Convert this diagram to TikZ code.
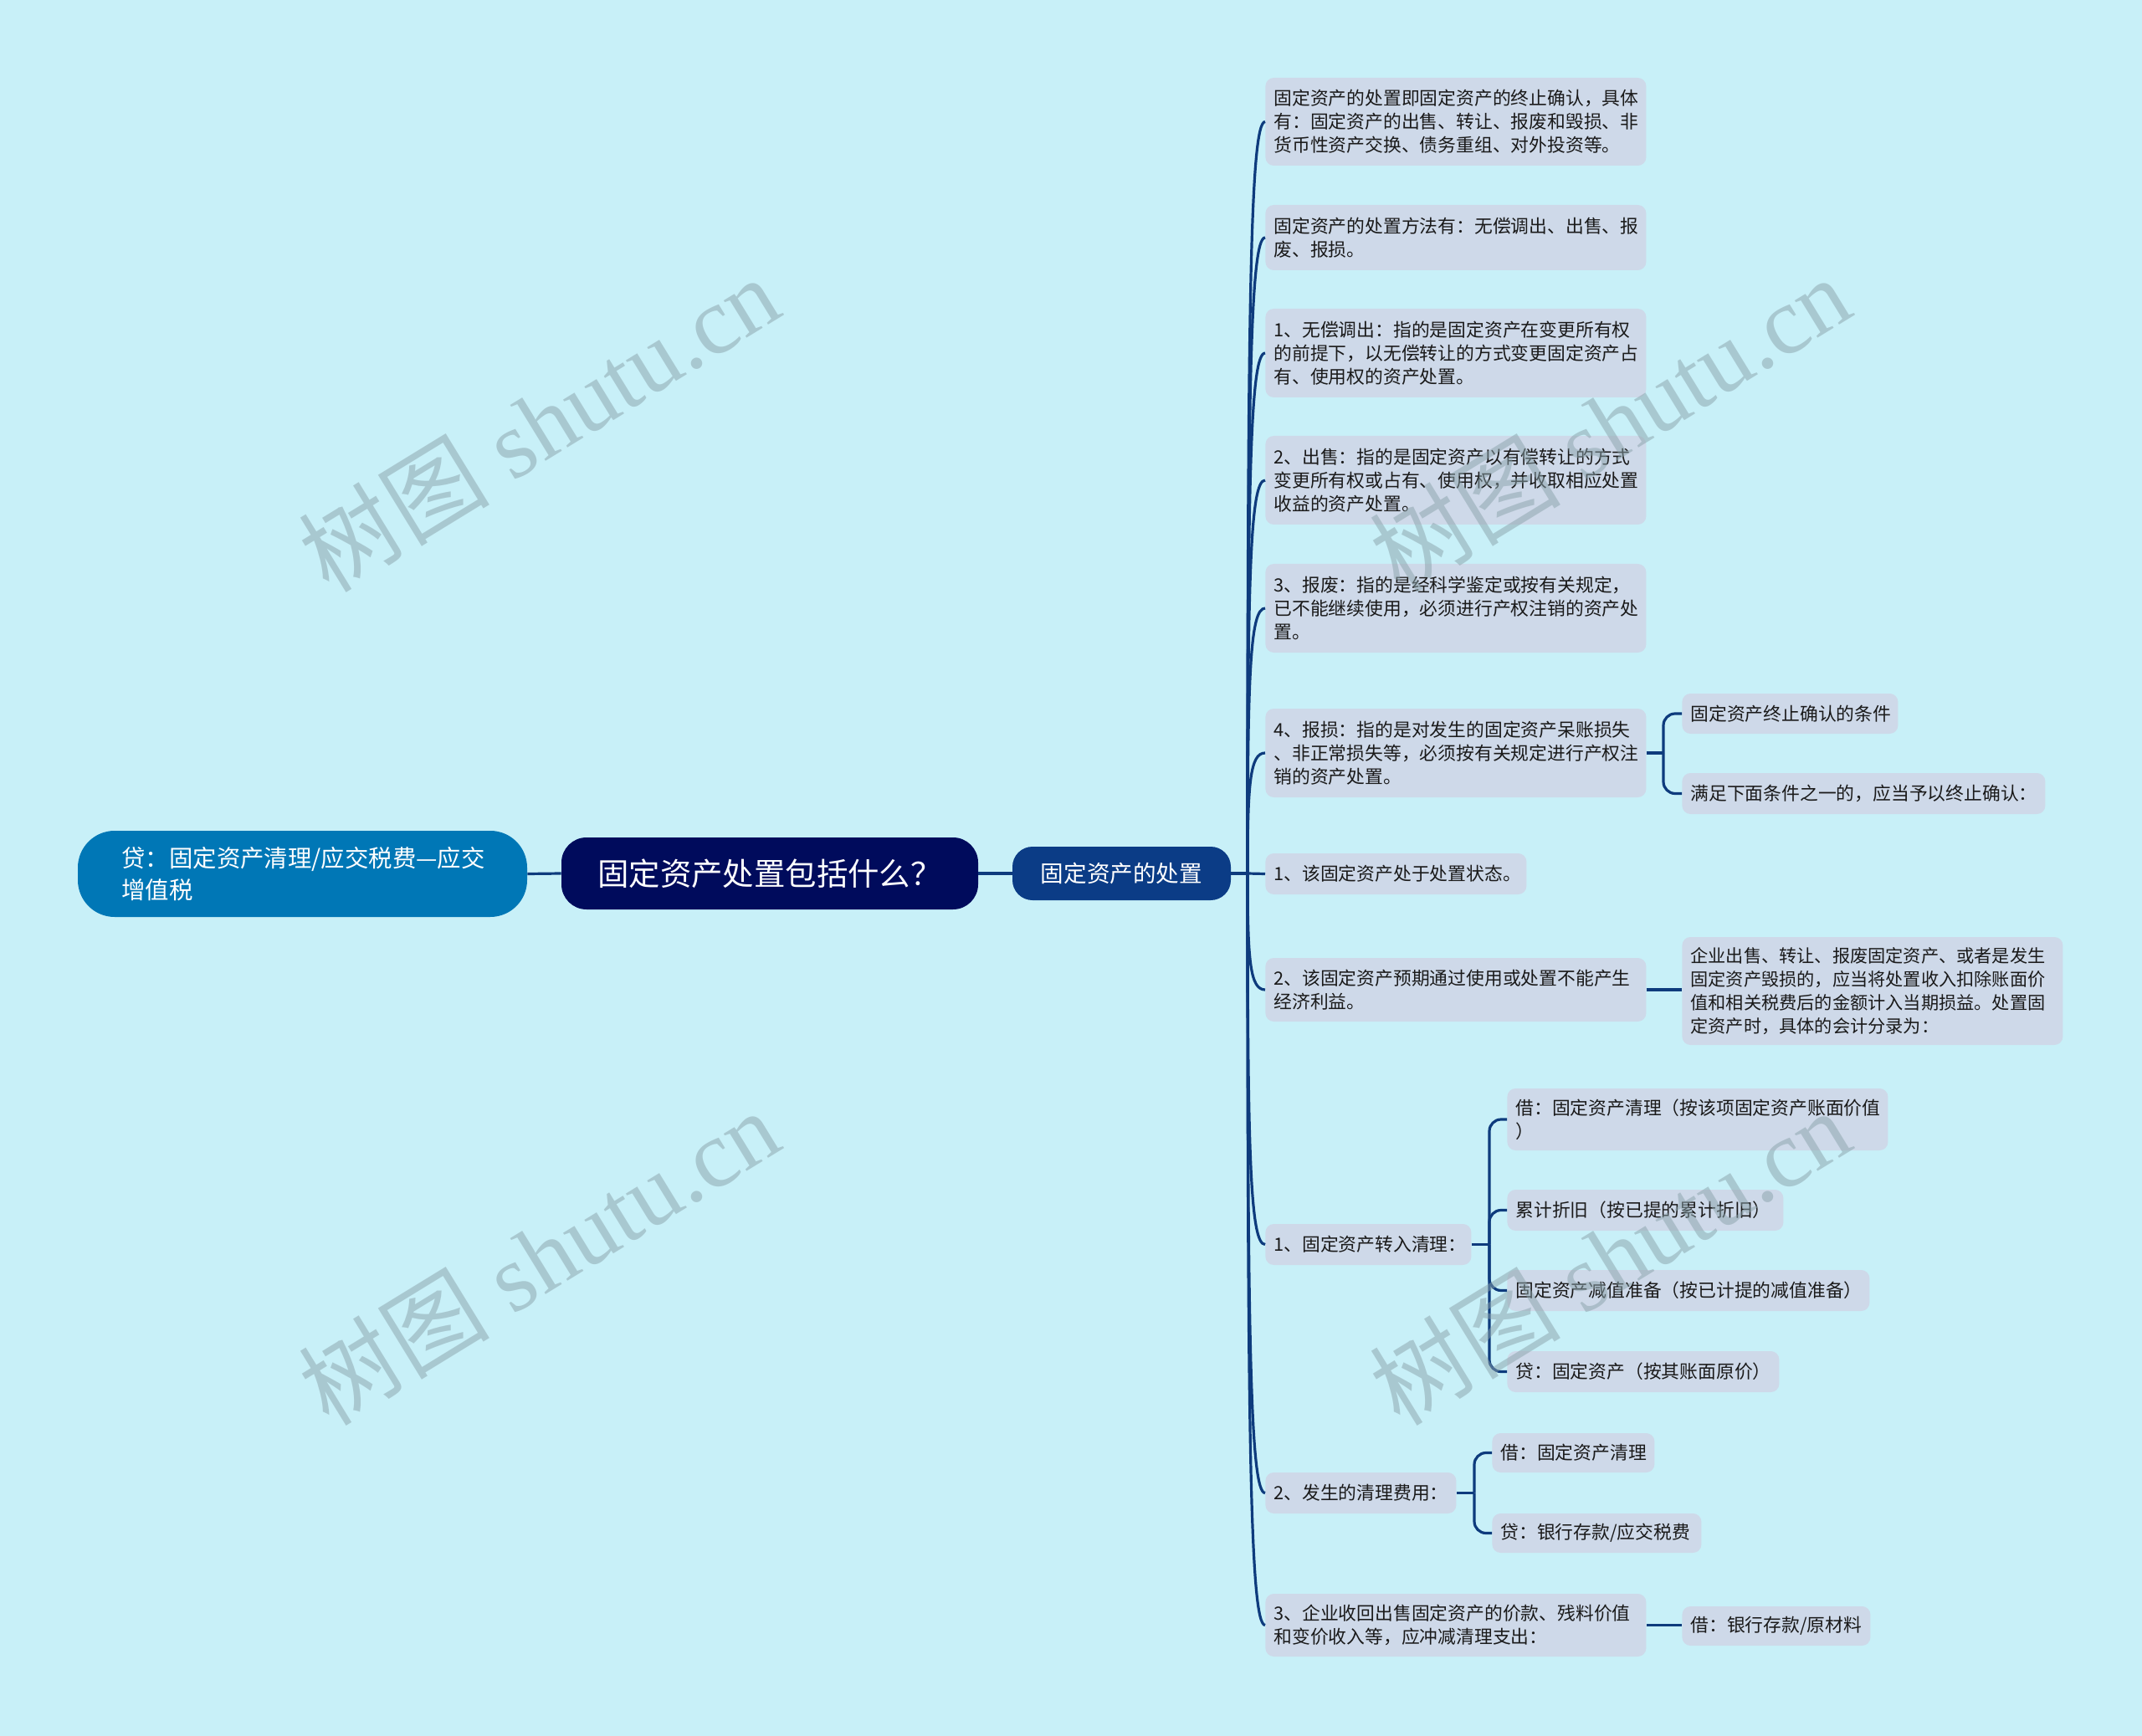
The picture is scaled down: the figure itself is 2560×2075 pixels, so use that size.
\documentclass[tikz,border=0pt]{standalone}
\usepackage{fontspec}
\setmainfont{Noto Sans CJK SC}
\newfontfamily\wmserif{Liberation Serif}
\newfontfamily\wmcjk{Noto Sans CJK SC}
\usetikzlibrary{calc}
\definecolor{bgc}{HTML}{C8F0F8}
\definecolor{leafc}{HTML}{CED9E9}
\definecolor{linec}{HTML}{0E3B7D}
\definecolor{rootc}{HTML}{000B5C}
\definecolor{mainc}{HTML}{0B3C86}
\definecolor{leftc}{HTML}{0077B6}
\definecolor{txtc}{HTML}{1A1A1A}
\definecolor{wmc}{HTML}{8AA2AA}
\tikzset{
  leaf/.style={fill=leafc, rounded corners=5pt, inner xsep=5pt, inner ysep=0pt,
    anchor=west, align=left, text=txtc, font=\fontsize{10.9pt}{13.9pt}\selectfont},
  conn/.style={draw=linec, line width=1.6pt},
  wm/.style={text=wmc, opacity=0.5, rotate=31.5, inner sep=0pt}
}
\begin{document}
\begin{tikzpicture}[x=0.5pt,y=-0.5pt]
\fill[bgc] (0,0) rectangle (2560,2075);
\useasboundingbox (0,0) rectangle (2560,2075);

% central nodes
\node[fill=leftc, text=white, rounded corners=22pt, align=left, text width=216pt,
  inner xsep=26.25pt, inner ysep=0pt, minimum height=51.5pt,
  font=\fontsize{14.2pt}{18.75pt}\selectfont] (left) at (361.5,1044.5)
  {\mbox{贷：固定资产清理/应交税费—应交}\\增值税};
\node[fill=rootc, text=white, rounded corners=15pt, minimum width=249pt,
  minimum height=43pt, inner sep=0pt, font=\fontsize{18.7pt}{22pt}\selectfont] (root) at (920,1044)
  {固定资产处置包括什么？};
\node[fill=mainc, text=white, rounded corners=12pt, minimum width=130.5pt,
  minimum height=32pt, inner sep=0pt, font=\fontsize{13.8pt}{17pt}\selectfont] (main) at (1340.5,1044)
  {固定资产的处置};

% first-level leaves
\node[leaf, text width=217.5pt, minimum height=52.5pt] (n1) at (1512,145.5)
  {固定资产的处置即固定资产的终止确认，具体\\有：固定资产的出售、转让、报废和毁损、非\\货币性资产交换、债务重组、对外投资等。};
\node[leaf, text width=217.5pt, minimum height=39pt] (n2) at (1512,284)
  {固定资产的处置方法有：无偿调出、出售、报\\废、报损。};
\node[leaf, text width=217.5pt, minimum height=53pt] (n3) at (1512,422)
  {1、无偿调出：指的是固定资产在变更所有权\\的前提下，以无偿转让的方式变更固定资产占\\有、使用权的资产处置。};
\node[leaf, text width=217.5pt, minimum height=53pt] (n4) at (1512,574)
  {2、出售：指的是固定资产以有偿转让的方式\\变更所有权或占有、使用权，并收取相应处置\\收益的资产处置。};
\node[leaf, text width=217.5pt, minimum height=53pt] (n5) at (1512,727)
  {3、报废：指的是经科学鉴定或按有关规定，\\已不能继续使用，必须进行产权注销的资产处\\置。};
\node[leaf, text width=217.5pt, minimum height=53pt] (n6) at (1512,900)
  {4、报损：指的是对发生的固定资产呆账损失\\、非正常损失等，必须按有关规定进行产权注\\销的资产处置。};
\node[leaf, text width=146pt, minimum height=24.5pt] (n7) at (1512,1044.5)
  {1、该固定资产处于处置状态。};
\node[leaf, text width=217.5pt, minimum height=38pt] (n8) at (1512,1183)
  {2、该固定资产预期通过使用或处置不能产生\\经济利益。};
\node[leaf, text width=113pt, minimum height=24.5pt] (n9) at (1512,1487.5)
  {1、固定资产转入清理：};
\node[leaf, text width=104pt, minimum height=24.5pt] (n10) at (1512,1784.5)
  {2、发生的清理费用：};
\node[leaf, text width=217.5pt, minimum height=37.5pt] (n11) at (1512,1942.5)
  {3、企业收回出售固定资产的价款、残料价值\\和变价收入等，应冲减清理支出：};

% second-level leaves
\node[leaf, text width=119pt, minimum height=24pt] (c6a) at (2010,853)
  {固定资产终止确认的条件};
\node[leaf, text width=207pt, minimum height=24.5pt] (c6b) at (2010,948.5)
  {满足下面条件之一的，应当予以终止确认：};
\node[leaf, text width=217.5pt, minimum height=64.5pt, font=\fontsize{10.6pt}{13.9pt}\selectfont] (c8a) at (2010,1184.5)
  {企业出售、转让、报废固定资产、或者是发生\\固定资产毁损的，应当将处置收入扣除账面价\\值和相关税费后的金额计入当期损益。处置固\\定资产时，具体的会计分录为：};
\node[leaf, text width=217.5pt, minimum height=37pt] (c9a) at (1801,1338)
  {借：固定资产清理（按该项固定资产账面价值\\）};
\node[leaf, text width=155pt, minimum height=24.5pt] (c9b) at (1801,1446.5)
  {累计折旧（按已提的累计折旧）};
\node[leaf, text width=206.5pt, minimum height=24.5pt] (c9c) at (1801,1542.5)
  {固定资产减值准备（按已计提的减值准备）};
\node[leaf, text width=152.5pt, minimum height=24.5pt] (c9d) at (1801,1639.5)
  {贷：固定资产（按其账面原价）};
\node[leaf, text width=87pt, minimum height=23.5pt] (c10a) at (1783,1736.5)
  {借：固定资产清理};
\node[leaf, text width=115pt, minimum height=23.5pt] (c10b) at (1783,1832.5)
  {贷：银行存款/应交税费};
\node[leaf, text width=102.5pt, minimum height=23.5pt] (c11a) at (2010,1943.5)
  {借：银行存款/原材料};

% connectors
\draw[conn] (left.east) -- (root.west);
\draw[conn] (root.east) -- (main.west);
\coordinate (hub) at (1491,1044);
\draw[conn] (main.east) -- (hub);
\foreach \n in {n1,n2,n3,n4,n5,n6,n8,n9,n10,n11}
  \draw[conn] (hub) .. controls ($(hub)!0.75!(hub|-\n.west)$) and ($(hub|-\n.west)+(3,0)$) .. (\n.west);
\draw[conn] (hub) -- (n7.west);

\coordinate (h6) at (1988,900);
\draw[conn] (n6.east) -- (h6);
\draw[conn, rounded corners=7pt] (h6) |- (c6a.west);
\draw[conn, rounded corners=7pt] (h6) |- (c6b.west);

\draw[conn] (n8.east) -- (n8.east -| c8a.west);

\coordinate (h9) at (1780,1487.5);
\draw[conn] (n9.east) -- (h9);
\foreach \c in {c9a,c9b,c9c,c9d}
  \draw[conn, rounded corners=7pt] (h9) |- (\c.west);

\coordinate (h10) at (1762,1784.5);
\draw[conn] (n10.east) -- (h10);
\foreach \c in {c10a,c10b}
  \draw[conn, rounded corners=7pt] (h10) |- (\c.west);

\draw[conn] (n11.east) -- (n11.east -| c11a.west);

% watermarks
\foreach \p in {(644,506),(1924,506),(644,1502),(1924,1502)}
  \node[wm] at \p {\fontsize{57pt}{57pt}\selectfont\wmcjk 树图\wmserif{} shutu.cn};
\end{tikzpicture}
\end{document}
